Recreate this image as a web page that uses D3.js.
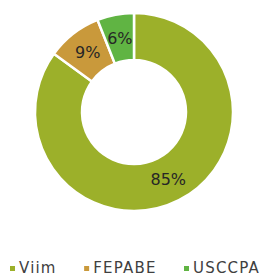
<!DOCTYPE html>
<html>
<head>
<meta charset="utf-8">
<script src="https://cdn.jsdelivr.net/npm/d3@7"></script>
<style>
  html, body { margin: 0; padding: 0; background: #fff; }
  svg { display: block; }
  text { font-family: "Century Gothic", "DejaVu Sans", sans-serif; }
</style>
</head>
<body>
<div id="chart"></div>
<script>
const width = 266;
const height = 280;

// data
const categories = ["Viim", "FEPABE", "USCCPA"];
const shares = [85, 9, 6];
const colors = ["#9cb02a", "#c9993b", "#60b443"];

const color = d3.scaleOrdinal().domain(categories).range(colors);

const svg = d3.select("#chart")
  .append("svg")
  .attr("width", width)
  .attr("height", height);

const cx = 134, cy = 112;
const outerR = 99, innerR = 52;

const data = categories.map((c, i) => ({ name: c, value: shares[i] }));

const pie = d3.pie()
  .value(d => d.value)
  .sort(null);

const arc = d3.arc()
  .innerRadius(innerR)
  .outerRadius(outerR);

const g = svg.append("g")
  .attr("transform", `translate(${cx},${cy})`);

const arcs = pie(data);

g.selectAll("path")
  .data(arcs)
  .join("path")
  .attr("d", arc)
  .attr("fill", d => color(d.data.name))
  .attr("stroke", "#fff")
  .attr("stroke-width", 2.5)
  .attr("stroke-linejoin", "miter");

const labelArc = d3.arc()
  .innerRadius((innerR + outerR) / 2)
  .outerRadius((innerR + outerR) / 2);

g.selectAll("text.label")
  .data(arcs)
  .join("text")
  .attr("class", "label")
  .attr("transform", d => `translate(${labelArc.centroid(d)})`)
  .attr("text-anchor", "middle")
  .attr("dy", "0.36em")
  .attr("font-size", "16px")
  .attr("fill", "#262626")
  .text(d => d.data.value + "%");

// legend along the bottom
const legend = svg.append("g")
  .attr("transform", `translate(0, 268)`);

const items = legend.selectAll("g")
  .data(categories)
  .join("g");

items.append("rect")
  .attr("y", -2)
  .attr("width", 5)
  .attr("height", 5)
  .attr("fill", d => color(d));

items.append("text")
  .attr("x", 9)
  .attr("y", 0)
  .attr("dy", "0.36em")
  .attr("font-size", "15px")
  .attr("letter-spacing", "1.2px")
  .attr("fill", "#404040")
  .text(d => d);

// lay items out side by side, spread from x=10 to x=260
const left = 10, right = 260;
const widths = [];
items.each(function () { widths.push(this.getBBox().width); });
const gap = (right - left - d3.sum(widths)) / (widths.length - 1);
let xPos = left;
items.attr("transform", (d, i) => {
  const t = `translate(${xPos},0)`;
  xPos += widths[i] + gap;
  return t;
});
</script>
</body>
</html>
